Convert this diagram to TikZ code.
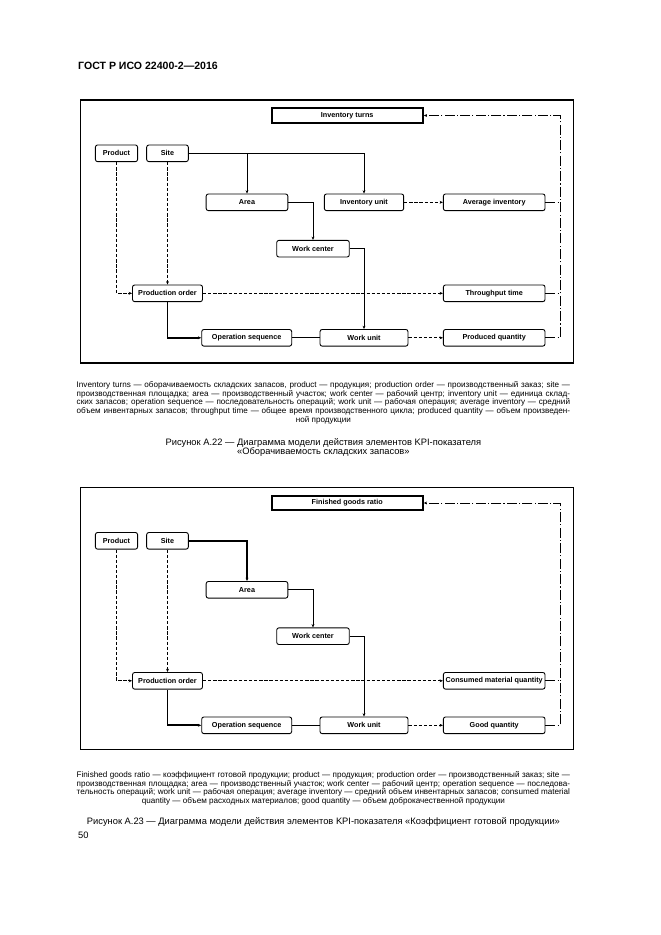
\documentclass[tikz,border=0pt]{standalone}
\usepackage{fontspec}
\setmainfont{Liberation Sans}
\usetikzlibrary{arrows.meta}
\newcommand{\boxfont}{\fontsize{6.5}{7.5}\selectfont\bfseries}
\newcommand{\legendfont}{\fontsize{7.3}{7.9}\selectfont}
\newcommand{\capfont}{\fontsize{8.4}{8.1}\selectfont}
\newcommand{\lastcentre}{\parindent=0pt\leftskip=0pt plus 1fil\rightskip=0pt plus -1fil\parfillskip=0pt plus 2fil\relax}

\begin{document}
\begin{tikzpicture}[x=0.9pt, y=-0.9pt,
  blk/.style={draw, rounded corners=2pt, line width=0.8pt, minimum height=15pt, inner sep=1pt, font=\boxfont},
  kpi/.style={draw, line width=1.8pt, minimum width=136pt, minimum height=13pt, inner sep=1pt, font=\boxfont},
  arr/.style={-{Stealth[length=3pt, width=2.6pt]}, line width=0.8pt},
  dsh/.style={arr, dash pattern=on 3pt off 1.6pt},
  heavy/.style={arr, line width=1.6pt},
  chain/.style={line width=0.8pt, dash pattern=on 9pt off 2pt on 1pt off 2pt},
  legend/.style={text width=444pt, align=justify, inner sep=0pt, font=\legendfont},
  caption/.style={align=center, inner sep=0pt, font=\capfont},
]
  \useasboundingbox (0,0) rectangle (661,935);
  \node[anchor=west, inner sep=0pt, font=\fontsize{9.5}{11}\selectfont\bfseries] (head) at (78,66) {ГОСТ Р ИСО 22400-2—2016};

  % Figure A.22
  \draw[line width=1.4pt] (80.7,100) rectangle (573.3,363);
  \node[kpi] (aturns) at (347.2,115.5) {Inventory turns};
  \node[blk, minimum width=38pt] (aprod) at (116.5,153.3) {Product};
  \node[blk, minimum width=37.5pt] (asite) at (167.5,153.3) {Site};
  \node[blk, minimum width=73.5pt] (aarea) at (247,202.3) {Area};
  \node[blk, minimum width=71.4pt] (ainv) at (364,202.3) {Inventory unit};
  \node[blk, minimum width=91.5pt] (aavg) at (494.2,202.3) {Average inventory};
  \node[blk, minimum width=65.3pt] (awc) at (313,248.7) {Work center};
  \node[blk, minimum width=63pt] (apo) at (167.5,293.3) {Production order};
  \node[blk, minimum width=91.5pt] (athr) at (494.2,293.3) {Throughput time};
  \node[blk, minimum width=81pt] (aops) at (246.7,337.8) {Operation sequence};
  \node[blk, minimum width=79.2pt] (awu) at (364,337.8) {Work unit};
  \node[blk, minimum width=91.5pt] (aprq) at (494.2,337.8) {Produced quantity};
  \coordinate (arail) at (560,115.5);

  \draw[arr] (asite.east) -| (ainv.north);
  \draw[arr] (asite.east -| aarea.north) -- (aarea.north);
  \draw[arr] (aarea.east) -| (awc.north);
  \draw[arr] (awc.east) -| (awu.north);
  \draw[dsh] (aprod.south) |- (apo.west);
  \foreach \i/\j in {asite.south/apo.north, apo.east/athr.west, ainv.east/aavg.west, awu.east/aprq.west} {
    \draw[dsh] (\i) -- (\j);
  }
  \draw[heavy] (apo.south) |- (aops.west);
  \draw[line width=0.8pt] (aops.east) -- (awu.west);
  \draw[chain, arr] (aprq.east) -| (arail) -- (aturns.east);
  \draw[chain] (aavg.east) -- (aavg.east -| arail);
  \draw[chain] (athr.east) -- (athr.east -| arail);

  \node[legend] (alegend) at (323.4,402.7) {\lastcentre Inventory turns — оборачиваемость складских запасов, product — продукция; production order — производственный заказ; site —\linebreak
  производственная площадка; area — производственный участок; work center — рабочий центр; inventory unit — единица склад-\linebreak
  ских запасов; operation sequence — последовательность операций; work unit — рабочая операция; average inventory — средний\linebreak
  объем инвентарных запасов; throughput time — общее время производственного цикла; produced quantity — объем произведен-\linebreak
  ной продукции\par};
  \node[caption] (acap) at (323.4,447.2) {Рисунок А.22 — Диаграмма модели действия элементов KPI-показателя\\«Оборачиваемость складских запасов»};

  % Figure A.23
  \begin{scope}[shift={(0,387.5)}]
    \draw[line width=1.4pt] (80.7,99.8) rectangle (573.3,361.8);
    \node[kpi] (bratio) at (347.2,115.5) {Finished goods ratio};
    \node[blk, minimum width=38pt] (bprod) at (116.5,153.3) {Product};
    \node[blk, minimum width=37.5pt] (bsite) at (167.5,153.3) {Site};
    \node[blk, minimum width=73.5pt] (barea) at (247,202.3) {Area};
    \node[blk, minimum width=65.3pt] (bwc) at (313,248.7) {Work center};
    \node[blk, minimum width=63pt] (bpo) at (167.5,293.3) {Production order};
    \node[blk, minimum width=91.5pt] (bcmq) at (494.2,293.3) {Consumed material quantity};
    \node[blk, minimum width=81pt] (bops) at (246.7,337.8) {Operation sequence};
    \node[blk, minimum width=79.2pt] (bwu) at (364,337.8) {Work unit};
    \node[blk, minimum width=91.5pt] (bgq) at (494.2,337.8) {Good quantity};
    \coordinate (brail) at (560,115.5);
  \end{scope}

  \draw[heavy] (bsite.east) -| (barea.north);
  \draw[arr] (barea.east) -| (bwc.north);
  \draw[arr] (bwc.east) -| (bwu.north);
  \draw[dsh] (bprod.south) |- (bpo.west);
  \foreach \i/\j in {bsite.south/bpo.north, bpo.east/bcmq.west, bwu.east/bgq.west} {
    \draw[dsh] (\i) -- (\j);
  }
  \draw[heavy] (bpo.south) |- (bops.west);
  \draw[line width=0.8pt] (bops.east) -- (bwu.west);
  \draw[chain, arr] (bgq.east) -| (brail) -- (bratio.east);
  \draw[chain] (bcmq.east) -- (bcmq.east -| brail);

  \node[legend] (blegend) at (323.4,788.3) {\lastcentre Finished goods ratio — коэффициент готовой продукции; product — продукция; production order — производственный заказ; site —\linebreak
  производственная площадка; area — производственный участок; work center — рабочий центр; operation sequence — последова-\linebreak
  тельность операций; work unit — рабочая операция; average inventory — средний объем инвентарных запасов; consumed material\linebreak
  quantity — объем расходных материалов; good quantity — объем доброкачественной продукции\par};
  \node[caption] (bcap) at (323.4,821.7) {Рисунок А.23 — Диаграмма модели действия элементов KPI-показателя «Коэффициент готовой продукции»};
  \node[anchor=west, inner sep=0pt, font=\capfont] (pageno) at (78,835) {50};
\end{tikzpicture}
\end{document}
